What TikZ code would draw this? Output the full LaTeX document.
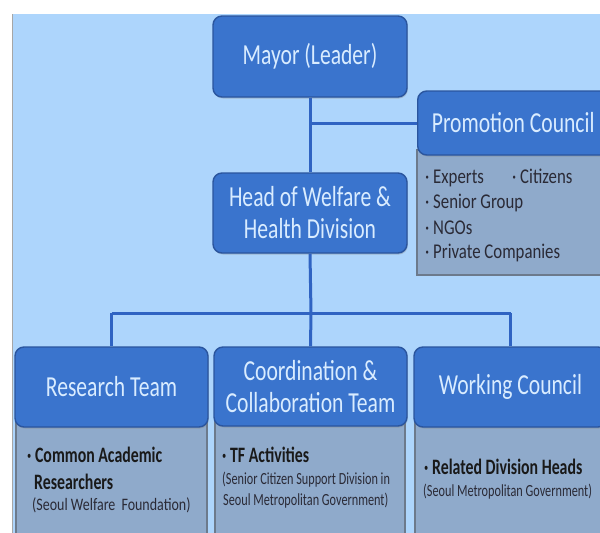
\documentclass[tikz,border=0pt]{standalone}
\usepackage{fontspec}
\setmainfont{Carlito}
\newfontfamily\hfont{Carlito}[FakeStretch=0.8]
\newfontfamily\tfont{Carlito}[FakeStretch=0.745]
\newfontfamily\nfont{Carlito}[FakeStretch=0.72]
\usetikzlibrary{shadows}
\definecolor{bgblue}{HTML}{ADD5FC}
\definecolor{boxblue}{HTML}{3A74CD}
\definecolor{boxedge}{HTML}{2A559E}
\definecolor{linkblue}{HTML}{2F63C2}
\definecolor{hdrtext}{HTML}{D9ECFF}
\definecolor{graybox}{HTML}{8FAACB}
\definecolor{grayedge}{HTML}{6C7A8C}
\definecolor{darktext}{HTML}{2A2A36}
\tikzset{
  hdr/.style={draw=boxedge, line width=1.4pt, fill=boxblue, rounded corners=9pt,
    text=hdrtext, align=center, inner sep=0pt,
    font=\tfont\fontsize{29}{32}\selectfont,
    drop shadow={shadow xshift=0.8pt, shadow yshift=-1.5pt, opacity=0.35}},
  content/.style={draw=grayedge, line width=1.2pt, fill=graybox},
  link/.style={draw=linkblue, line width=3pt},
  ptxt/.style={anchor=west, inner sep=0pt, text=darktext, align=left,
    font=\hfont\fontsize{21}{25.5}\selectfont},
  btxt/.style={anchor=west, inner sep=0pt, text=black!90,
    font=\nfont\bfseries\fontsize{22}{24}\selectfont},
  stxt/.style={anchor=west, inner sep=0pt, text=darktext,
    font=\hfont\fontsize{17.5}{20}\selectfont},
  ntxt/.style={anchor=west, inner sep=0pt, text=darktext,
    font=\nfont\fontsize{17}{20}\selectfont},
}
\begin{document}
\begin{tikzpicture}[x=1pt,y=-1pt]
\useasboundingbox (0,0) rectangle (600,533);
\clip (0,0) rectangle (600,533);
% background
\fill[white] (0,0) rectangle (600,533);
\fill[bgblue] (12,14) rectangle (600,533);
\draw[gray!70, line width=1pt] (12.5,14) -- (12.5,533);

% content boxes (behind headers)
\draw[content] (417,150) rectangle (614,275);
\draw[content] (16,420) rectangle (207,545);
\draw[content] (215,420) rectangle (405,545);
\draw[content] (415,420) rectangle (608,545);

% header boxes
\node[hdr, minimum width=194pt, minimum height=81pt] (mayor) at (310,56.5) {Mayor (Leader)};
\node[hdr, minimum width=194pt, minimum height=80pt] (head) at (310,213) {Head of Welfare \&\\Health Division};
\node[hdr, minimum width=197pt, minimum height=64pt, anchor=west] (promo) at (417,123) {\hspace{-6pt}Promotion Council};
\node[hdr, minimum width=193pt, minimum height=80pt] (research) at (111.5,387) {Research Team};
\node[hdr, minimum width=193pt, minimum height=79pt] (coord) at (310.5,386.5) {Coordination \&\\Collaboration Team};
\node[hdr, minimum width=193pt, minimum height=80pt] (working) at (510.5,387) {Working Council};

% connectors
\coordinate (pjoin) at (mayor.south |- promo.west);
\coordinate (bus) at (311,313);
\coordinate (busL) at (research.north |- bus);
\coordinate (busR) at (working.north |- bus);
\draw[link] (mayor.south) -- (head.north);
\draw[link] (pjoin) -- (promo.west);
\draw[link] (head.south) -- (bus);
\draw[link] (busL) -- (busR);
\draw[link] (busL) -- (research.north);
\draw[link] (bus) -- (coord.north);
\draw[link] (busR) -- (working.north);

% promotion council content
\node[ptxt] (p1) at (425,178) {\makebox[87pt][l]{· Experts}· Citizens};
\node[ptxt] (p2) at (425,203) {· Senior Group};
\node[ptxt] (p3) at (425,228) {· NGOs};
\node[ptxt] (p4) at (425,253) {· Private Companies};

% research content
\node[btxt] (r1) at (27,455) {·\,Common Academic};
\node[btxt] (r2) at (34,482) {Researchers};
\node[stxt] (r3) at (32,505) {(Seoul Welfare\, Foundation)};

% coordination content
\node[btxt] (c1) at (222,455) {·\,TF Activities};
\node[ntxt] (c2) at (222,480) {(Senior Citizen Support Division in};
\node[ntxt] (c3) at (223,501) {Seoul Metropolitan Government)};

% working content
\node[btxt] (w1) at (424,467) {·\,Related Division Heads};
\node[ntxt] (w2) at (423,492) {(Seoul Metropolitan Government)};
\end{tikzpicture}
\end{document}
